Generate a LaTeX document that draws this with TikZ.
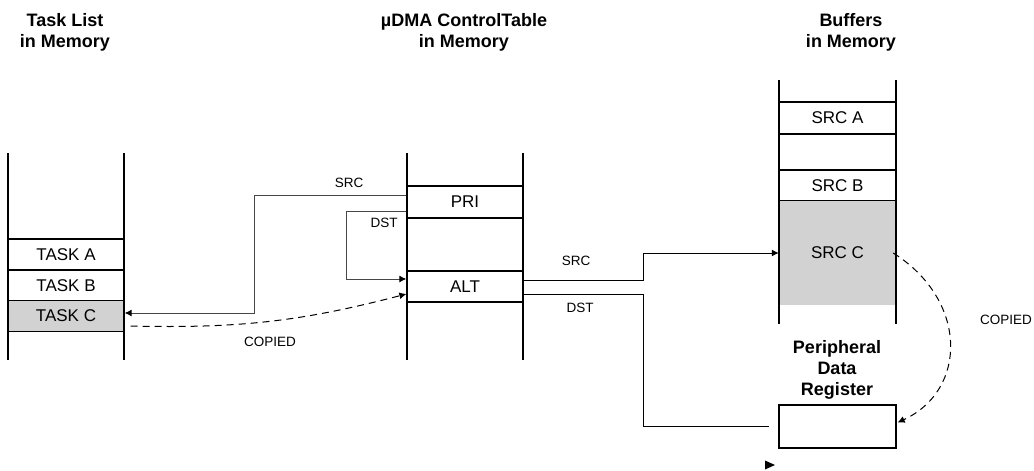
\documentclass[tikz,border=0pt]{standalone}
\usepackage{fontspec}
\setmainfont{Liberation Sans}
\usetikzlibrary{arrows.meta, positioning}
\definecolor{cellgray}{RGB}{210,210,210}
\definecolor{wiregray}{RGB}{70,70,70}

\begin{document}
\begin{tikzpicture}[x=1pt, y=-1pt,
    cell/.style={draw, line width=1.3pt, minimum width=116pt, minimum height=31pt, inner sep=0pt, font=\fontsize{17}{20}\selectfont},
    title/.style={align=center, font=\fontsize{18}{21}\selectfont\bfseries},
    lbl/.style={font=\fontsize{13.5}{16}\selectfont, inner sep=0pt},
    wire/.style={wiregray, line width=1pt},
    tip/.style={-{Latex[length=7pt,width=7pt,black]}},
    col/.style={line width=1.3pt}]
    \useasboundingbox (0,0) rectangle (1034,471);

    % Titles
    \node[title] (tasktitle) at (65,32) {Task List\\in Memory};
    \node[title] (dmatitle) at (464,32) {µDMA ControlTable\\in Memory};
    \node[title] (buftitle) at (851,32) {Buffers\\in Memory};

    % Task list in memory
    \draw[col] (8,153) -- (8,360);
    \draw[col] (124,153) -- (124,360);
    \node[cell] (taska) at (66,254.5) {TASK A};
    \node[cell, minimum height=30pt] (taskb) at (66,285.5) {TASK B};
    \node[cell, fill=cellgray] (taskc) at (66,316) {TASK C};

    % Control table
    \draw[col] (407,153) -- (407,360);
    \draw[col] (523,153) -- (523,360);
    \node[cell, minimum height=32pt] (pri) at (465,202) {PRI};
    \node[cell] (alt) at (465,286.5) {ALT};

    % Buffers
    \draw[col] (779,80) -- (779,324);
    \draw[col] (896,80) -- (896,324);
    \node[cell, minimum width=117pt, minimum height=32pt] (srca) at (837.5,118) {SRC A};
    \node[cell, minimum width=117pt] (srcb) at (837.5,185.5) {SRC B};
    \fill[cellgray] (779.7,201) rectangle (895.3,305);
    \node[font=\fontsize{17}{20}\selectfont, minimum width=117pt, minimum height=104pt] (srcc) at (837.5,253) {};
    \node[font=\fontsize{17}{20}\selectfont] at (837.5,253) {SRC C};

    % Peripheral register
    \node[title] (periph) at (837,370) {Peripheral\\Data\\Register};
    \node[cell, minimum width=117pt, minimum height=43pt] (perreg) at (837.5,426.5) {};

    % Links from PRI
    \draw[wire, tip] ([yshift=7pt]pri.west) -- ++(-152,0) |- ([yshift=3pt]taskc.east);
    \draw[wire, tip] ([yshift=-9pt]pri.west) -- ++(-60,0) |- ([yshift=7.5pt]alt.west);
    \node[lbl] at (349,183) {SRC};
    \node[lbl] at (384,222.5) {DST};

    % Links from ALT
    \draw[wire, black, tip] ([yshift=6.5pt]alt.east) -- ++(120,0) |- (srcc.west);
    \draw[wire, black] ([yshift=-8pt]alt.east) -- ++(120,0) |- ([xshift=-9pt]perreg.west);
    \fill (765,460.5) -- (775,465) -- (765,469.5) -- cycle;
    \node[lbl] at (576,261) {SRC};
    \node[lbl] at (580,308) {DST};

    % Copies
    \draw[wire, black, dashed, dash pattern=on 7pt off 5pt, tip] ([xshift=6pt,yshift=-10pt]taskc.east) to[bend right=8] ([yshift=-7.5pt]alt.west);
    \node[lbl] at (270,342) {COPIED};
    \draw[wire, black, dashed, dash pattern=on 7pt off 5pt, tip] ([xshift=-3pt]srcc.east) .. controls (968,300) and (968,390) .. ([xshift=1pt,yshift=4pt]perreg.east);
    \node[lbl] at (1006,320) {COPIED};
\end{tikzpicture}
\end{document}
